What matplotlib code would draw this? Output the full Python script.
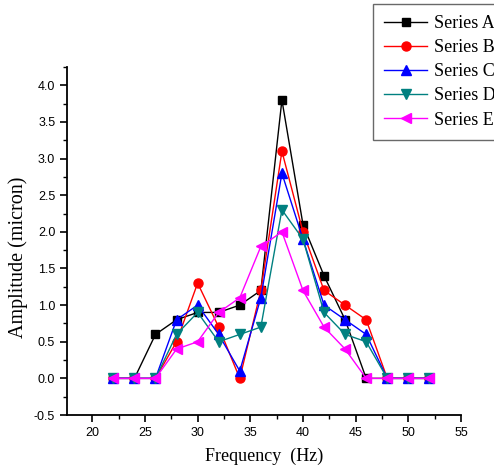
import matplotlib
matplotlib.use("Agg")
import matplotlib.pyplot as plt
from matplotlib.ticker import MultipleLocator

# Frequency sweep (Hz)
frequency = [22, 24, 26, 28, 30, 32, 34, 36, 38, 40, 42, 44, 46, 48, 50, 52]

# Measured amplitudes (micron)
series_a = [0, 0, 0.6, 0.8, 0.9, 0.9, 1.0, 1.2, 3.8, 2.1, 1.4, 0.8, 0, 0, 0, 0]
series_b = [0, 0, 0, 0.5, 1.3, 0.7, 0, 1.2, 3.1, 2.0, 1.2, 1.0, 0.8, 0, 0, 0]
series_c = [0, 0, 0, 0.8, 1.0, 0.6, 0.1, 1.1, 2.8, 1.9, 1.0, 0.8, 0.6, 0, 0, 0]
series_d = [0, 0, 0, 0.6, 0.9, 0.5, 0.6, 0.7, 2.3, 1.9, 0.9, 0.6, 0.5, 0, 0, 0]
series_e = [0, 0, 0, 0.4, 0.5, 0.9, 1.1, 1.8, 2.0, 1.2, 0.7, 0.4, 0, 0, 0, 0]

labels = ["Series A", "Series B", "Series C", "Series D", "Series E"]

fig = plt.figure(figsize=(4.94, 4.72), dpi=100)
ax = fig.add_axes([67 / 494, 1 - 415 / 472, (461 - 67) / 494, (415 - 67) / 472])

styles = [
    ("black", "s", 6),
    ("red", "o", 6.5),
    ("blue", "^", 7),
    ("#008080", "v", 7),
    ("#ff00ff", "<", 7),
]
for vals, lab, (col, mk, ms) in zip(
    [series_a, series_b, series_c, series_d, series_e], labels, styles
):
    ax.plot(frequency, vals, color=col, marker=mk, markersize=ms,
            linewidth=1.0, label=lab)

ax.set_xlim(17.6, 55)
ax.set_ylim(-0.5, 4.25)
ax.xaxis.set_minor_locator(MultipleLocator(2.5))
ax.yaxis.set_minor_locator(MultipleLocator(0.25))
ax.set_yticks([-0.5, 0, 0.5, 1.0, 1.5, 2.0, 2.5, 3.0, 3.5, 4.0])
ax.set_yticklabels(["-0.5", "0.0", "0.5", "1.0", "1.5", "2.0", "2.5",
                    "3.0", "3.5", "4.0"])
ax.set_xticks([20, 25, 30, 35, 40, 45, 50, 55])

for s in ["top", "right"]:
    ax.spines[s].set_visible(False)
for s in ["left", "bottom"]:
    ax.spines[s].set_linewidth(1.3)

ax.tick_params(which="major", direction="out", length=5, width=1.2,
               labelsize=9, labelfontfamily="Liberation Sans")
ax.tick_params(which="minor", direction="out", length=3, width=1.0)

ax.set_xlabel("Frequency  (Hz)", fontfamily="Liberation Serif", fontsize=13)
ax.set_ylabel("Amplitude (micron)", fontfamily="Liberation Serif", fontsize=14.5)
ax.yaxis.set_label_coords(-0.098, 0.452)
ax.xaxis.set_label_coords(0.5, -0.095)

leg = fig.legend(loc="upper left", bbox_to_anchor=(373 / 494, 1 - 4 / 472),
                 prop={"family": "Liberation Serif", "size": 13},
                 frameon=True, fancybox=False, handlelength=2.4,
                 handletextpad=0.4, labelspacing=0.4, borderpad=0.6,
                 borderaxespad=0)
leg.get_frame().set_edgecolor("#444444")
leg.get_frame().set_linewidth(1.0)

fig.savefig("out.png", dpi=100)
